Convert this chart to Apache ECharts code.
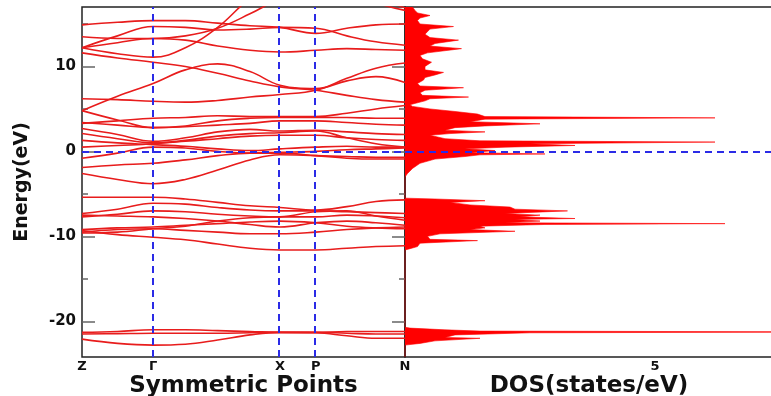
<!DOCTYPE html>
<html>
<head>
<meta charset="utf-8">
<script src="https://cdn.jsdelivr.net/npm/echarts@6/dist/echarts.min.js"></script>
<style>
  html, body { margin: 0; padding: 0; background: #fff; }
  #main { width: 771px; height: 396px; }
</style>
</head>
<body>
<div id="main"></div>
<script>
// k-path: tick positions and labels
const kTicks = [0, 0.22, 0.613, 0.724, 1]
const kLabels = ['Z', 'Γ', 'X', 'P', 'N']
// k sample points the band energies are read at
const kPts = [0, 0.11, 0.22, 0.32, 0.42, 0.52, 0.613, 0.724, 0.82, 0.91, 1.0]

// band energies (eV) at kPts
const lowBands = [
  [-21.3, -21.2, -21.0, -21.0, -21.1, -21.2, -21.3, -21.3, -21.2, -21.2, -21.2],
  [-21.5, -21.45, -21.4, -21.4, -21.4, -21.35, -21.3, -21.3, -21.4, -21.5, -21.5],
  [-22.1, -22.6, -22.8, -22.7, -22.2, -21.6, -21.3, -21.35, -21.7, -22.0, -22.0]
]
const valenceBands = [
  [-5.4, -5.4, -5.4, -5.6, -6.0, -6.4, -6.6, -6.9, -6.5, -5.9, -5.7],
  [-7.3, -6.8, -6.1, -6.2, -6.6, -6.9, -7.0, -7.0, -7.1, -7.2, -7.3],
  [-7.7, -7.4, -7.0, -7.1, -7.4, -7.6, -7.7, -7.1, -7.0, -7.6, -8.1],
  [-7.5, -7.6, -7.7, -7.9, -8.2, -8.6, -8.9, -8.4, -8.2, -8.4, -8.7],
  [-9.2, -9.0, -8.9, -8.7, -8.5, -8.3, -8.2, -8.4, -8.8, -9.0, -9.1],
  [-9.5, -9.2, -9.1, -9.3, -9.5, -9.7, -9.7, -9.5, -9.2, -9.0, -8.9],
  [-9.3, -9.8, -10.1, -10.4, -10.9, -11.4, -11.6, -11.6, -11.4, -11.2, -11.1],
  [-9.6, -9.5, -9.1, -8.8, -8.2, -7.8, -7.7, -7.7, -7.5, -7.6, -7.8]
]
const fermiBands = [
  [-2.6, -3.3, -3.8, -3.3, -2.2, -1.0, -0.4, -0.5, -0.6, -0.7, -0.7],
  [-1.9, -1.6, -1.4, -1.0, -0.5, -0.2, -0.2, -0.5, -0.8, -0.9, -0.9],
  [-0.8, -0.2, 0.5, 0.4, 0.0, -0.2, -0.1, 0.0, 0.2, 0.3, 0.4]
]
const conductionBands = [
  [0.5, 0.7, 0.9, 1.3, 1.8, 2.1, 2.2, 2.4, 1.6, 0.9, 0.5],
  [1.3, 1.0, 0.8, 0.6, 0.3, 0.1, 0.3, 0.5, 0.6, 0.5, 0.5],
  [2.1, 1.5, 1.0, 1.2, 1.5, 1.8, 1.9, 1.9, 1.6, 1.4, 1.3],
  [2.7, 2.0, 1.2, 1.6, 2.3, 2.6, 2.4, 2.5, 2.3, 2.1, 2.0],
  [3.4, 3.1, 2.8, 2.9, 3.1, 3.3, 3.6, 3.6, 3.4, 3.2, 3.1],
  [4.8, 3.7, 2.8, 3.0, 3.6, 3.9, 4.0, 4.0, 4.0, 3.9, 3.9],
  [3.3, 3.6, 3.9, 4.0, 4.2, 4.1, 4.1, 4.1, 4.5, 5.0, 5.4]
]
const upperBands = [
  [14.9, 15.2, 15.4, 15.4, 15.1, 14.8, 14.6, 13.9, 14.5, 14.9, 15.0],
  [12.2, 13.6, 14.7, 14.6, 14.3, 14.4, 14.6, 14.5, 13.6, 12.9, 12.5],
  [12.2, 12.8, 13.3, 13.1, 12.4, 11.9, 11.7, 11.9, 12.1, 12.0, 11.9],
  [12.2, 11.5, 11.1, 12.2, 14.6, 18.0, 20.0, 20.5, 19.0, 17.5, 16.6],
  [13.5, 13.3, 13.3, 13.6, 14.5, 16.2, 18.0, 19.5, 19.0, 18.0, 16.9],
  [11.6, 11.0, 10.5, 10.0, 9.2, 8.3, 7.6, 7.2, 6.6, 6.1, 5.8],
  [4.8, 6.5, 8.0, 9.6, 10.3, 9.4, 7.8, 7.4, 8.3, 8.8, 8.1],
  [6.2, 6.1, 5.9, 5.8, 6.0, 6.4, 6.7, 7.2, 8.6, 9.8, 10.4]
]

// density of states: energy (eV) and value (states/eV)
const dosE = [-24.2, -22.8, -22.6, -22.3, -22.0, -21.9, -21.6, -21.35, -21.25, -21.15, -21.0, -20.8, -20.7,
  -11.6, -11.45, -11.2, -10.8, -10.5, -10.35, -10.0, -9.7, -9.4, -9.2, -9.0, -8.8, -8.6, -8.5, -8.4, -8.2,
  -8.0, -7.9, -7.7, -7.5, -7.3, -7.0, -6.8, -6.55, -6.3, -6.0, -5.8, -5.6, -5.5,
  -3.0, -2.6, -2.0, -1.4, -0.9, -0.6, -0.4, -0.3, -0.15, 0.1, 0.3, 0.5, 0.7, 0.9, 1.1, 1.25, 1.5, 1.9,
  2.1, 2.3, 2.5, 2.8, 3.0, 3.25, 3.5, 3.8, 3.95, 4.1, 4.4, 4.7, 5.0, 5.3, 5.5, 5.7, 5.95, 6.2, 6.4, 6.6,
  6.9, 7.2, 7.5, 7.7, 8.0, 8.4, 8.7, 9.0, 9.3, 9.6, 10.0, 10.5, 10.9, 11.3, 11.6, 12.1, 12.4, 12.7, 13.1,
  13.4, 13.8, 14.1, 14.4, 14.7, 15.0, 15.4, 15.7, 16.0, 16.3, 16.6, 17.0]
const dosV = [0, 0, 0.3, 0.6, 1.5, 0.8, 1.0, 2.5, 9.0, 1.5, 0.8, 0.1, 0,
  0, 0.1, 0.25, 0.3, 1.45, 0.5, 0.45, 0.7, 2.2, 1.3, 1.6, 1.5, 2.8, 6.4, 2.0, 2.7,
  2.2, 3.4, 2.3, 2.7, 2.0, 3.25, 2.2, 2.1, 1.3, 0.9, 1.6, 0.6, 0,
  0, 0.05, 0.15, 0.3, 0.6, 1.2, 1.5, 2.8, 1.3, 1.8, 1.2, 2.0, 3.4, 2.5, 6.2, 1.5, 0.8, 0.5,
  0.9, 1.6, 0.8, 1.0, 1.6, 2.7, 1.3, 1.6, 6.2, 1.6, 1.45, 1.0, 0.5, 0.15, 0.1, 0.1, 0.4, 0.5, 1.27, 0.35,
  0.3, 0.4, 1.17, 0.3, 0.25, 0.37, 0.4, 0.6, 0.77, 0.4, 0.4, 0.53, 0.35, 0.3, 0.45, 1.13, 0.5, 0.6, 1.07,
  0.5, 0.4, 0.45, 0.5, 0.97, 0.3, 0.25, 0.3, 0.5, 0.25, 0.2, 0.15]

const eMin = -24.2
const eMax = 17
const dosMax = 7.36
const majorE = [-20, -10, 0, 10]
const minorE = [-15, -5, 5, 15]

const myChart = echarts.init(document.getElementById('main'))

const boldFont = 'DejaVu Sans'
const tickStyle = { color: '#666', width: 1.5 }
const dash = [7, 5]
const blue = '#2b2be6'

function tickAxis (position, values, len) {
  return {
    gridIndex: 0, type: 'value', position: position, min: eMin, max: eMax,
    axisLine: { show: false }, splitLine: { show: false },
    axisLabel: { show: false },
    axisTick: { inside: true, length: len, lineStyle: tickStyle, customValues: values }
  }
}

const allBands = [].concat(lowBands, valenceBands, fermiBands, conductionBands, upperBands)
const series = allBands.map(function (b, idx) {
  const s = {
    type: 'line',
    xAxisIndex: 0,
    yAxisIndex: 0,
    smooth: 0.4,
    symbol: 'none',
    silent: true,
    lineStyle: { color: '#e81c1c', width: 1.6 },
    data: kPts.map(function (k, i) { return [k, b[i]] })
  }
  if (idx === 0) {
    s.markLine = {
      symbol: 'none', silent: true, label: { show: false },
      lineStyle: { color: blue, width: 2, type: dash },
      data: [{ xAxis: kTicks[1] }, { xAxis: kTicks[2] }, { xAxis: kTicks[3] }, { yAxis: 0 }]
    }
  }
  return s
})

series.push({
  type: 'line',
  xAxisIndex: 1,
  yAxisIndex: 4,
  symbol: 'none',
  silent: true,
  lineStyle: { color: '#ff0000', width: 0.6 },
  areaStyle: { color: '#ff0000', opacity: 1 },
  data: dosE.map(function (e, i) { return [dosV[i], e] }),
  markLine: {
    symbol: 'none', silent: true, label: { show: false },
    lineStyle: { color: blue, width: 2, type: dash },
    data: [{ yAxis: 0 }]
  }
})

const option = {
  animation: false,
  grid: [
    { left: 82, top: 7, width: 323, height: 350, show: true, borderColor: '#222', borderWidth: 1.5, outerBoundsMode: 'none' },
    { left: 405, top: 7, width: 368, height: 350, show: true, borderColor: '#222', borderWidth: 1.5, outerBoundsMode: 'none' }
  ],
  xAxis: [
    {
      gridIndex: 0, type: 'value', min: 0, max: 1,
      axisLine: { show: false }, axisTick: { show: false }, splitLine: { show: false },
      axisLabel: {
        customValues: kTicks,
        margin: 3,
        color: '#111', fontFamily: boldFont, fontWeight: 'bold', fontSize: 13,
        formatter: function (v) {
          const i = kTicks.findIndex(function (t) { return Math.abs(t - v) < 1e-6 })
          return i >= 0 ? kLabels[i] : ''
        }
      },
      name: 'Symmetric Points', nameLocation: 'middle', nameGap: 18, nameMoveOverlap: false,
      nameTextStyle: { color: '#111', fontFamily: boldFont, fontWeight: 'bold', fontSize: 23 }
    },
    {
      gridIndex: 1, type: 'value', min: 0, max: dosMax,
      axisLine: { show: false }, splitLine: { show: false },
      axisTick: { inside: true, length: 7, lineStyle: tickStyle, customValues: [2.5, 5] },
      axisLabel: {
        customValues: [5], margin: 3,
        color: '#111', fontFamily: boldFont, fontWeight: 'bold', fontSize: 13
      },
      name: 'DOS(states/eV)', nameLocation: 'middle', nameGap: 18, nameMoveOverlap: false,
      nameTextStyle: { color: '#111', fontFamily: boldFont, fontWeight: 'bold', fontSize: 23 }
    },
    {
      gridIndex: 1, type: 'value', position: 'top', min: 0, max: dosMax,
      axisLine: { show: false }, splitLine: { show: false }, axisLabel: { show: false },
      axisTick: { inside: true, length: 7, lineStyle: tickStyle, customValues: [2.5, 5] }
    }
  ],
  yAxis: [
    {
      gridIndex: 0, type: 'value', position: 'left', min: eMin, max: eMax,
      axisLine: { show: false }, splitLine: { show: false },
      axisTick: { inside: true, length: 13, lineStyle: tickStyle, customValues: majorE },
      axisLabel: {
        customValues: majorE, margin: 6,
        color: '#111', fontFamily: boldFont, fontWeight: 'bold', fontSize: 15
      },
      name: 'Energy(eV)', nameLocation: 'middle', nameGap: 50, nameMoveOverlap: false,
      nameTextStyle: { color: '#111', fontFamily: boldFont, fontWeight: 'bold', fontSize: 19 }
    },
    tickAxis('left', minorE, 6),
    tickAxis('right', majorE, 13),
    tickAxis('right', minorE, 6),
    {
      // time-type axis so the DOS area fills horizontally towards DOS = 0
      gridIndex: 1, type: 'time', min: eMin, max: eMax,
      axisLine: { show: false }, axisTick: { show: false },
      axisLabel: { show: false }, splitLine: { show: false }
    }
  ],
  series: series
}

myChart.setOption(option)
</script>
</body>
</html>
